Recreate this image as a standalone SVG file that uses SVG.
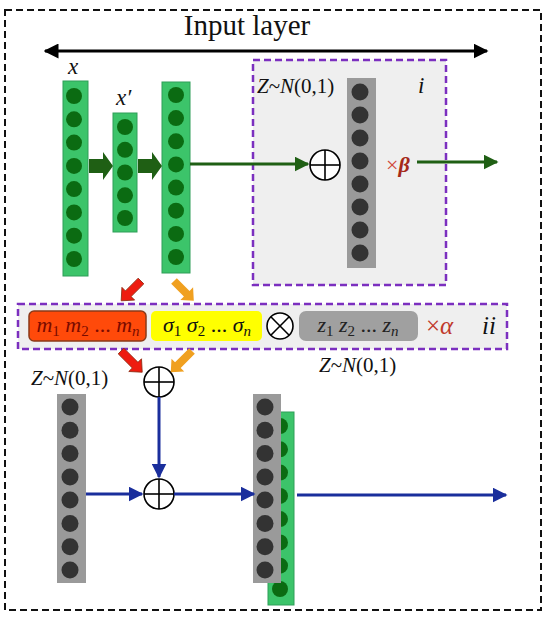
<svg xmlns="http://www.w3.org/2000/svg" width="550" height="627" viewBox="0 0 550 627">
<defs>
<style>
.t{fill:#111}
.it{font-style:italic}
.gcol{fill:#3cc46a;stroke:#2e9e58;stroke-width:1}
.gdot{fill:#0b6b12}
.kcol{fill:#9a9a9a}
.kdot{fill:#333333}
.plus{fill:#fff;stroke:#000;stroke-width:1.6}
.gl{stroke:#1f5f14;stroke-width:3;fill:none}
.bl{stroke:#1a2e9c;stroke-width:3;fill:none}
</style>
<marker id="ag" viewBox="0 0 10 10" refX="9" refY="5" markerWidth="5" markerHeight="5" orient="auto" markerUnits="strokeWidth"><path d="M0,0L10,5L0,10z" fill="#1f5f14"/></marker>
<marker id="ab" viewBox="0 0 10 10" refX="9" refY="5" markerWidth="5" markerHeight="5" orient="auto" markerUnits="strokeWidth"><path d="M0,0L10,5L0,10z" fill="#1a2e9c"/></marker>
<marker id="ak" viewBox="0 0 10 10" refX="9" refY="5" markerWidth="5" markerHeight="5" orient="auto-start-reverse" markerUnits="strokeWidth"><path d="M0,0L10,5L0,10z" fill="#000"/></marker>
</defs>
<rect x="5" y="10" width="536" height="600" fill="none" stroke="#111" stroke-width="2" stroke-dasharray="7,4"/>
<text class="t" x="247" y="35" font-size="29" text-anchor="middle" font-family="'Liberation Serif', serif">Input layer</text>
<line x1="45" y1="51" x2="487" y2="51" stroke="#000" stroke-width="3" marker-start="url(#ak)" marker-end="url(#ak)"/>

<g id="box-i">
<rect x="253" y="60" width="193" height="225" fill="#efefef" stroke="#7b2fbf" stroke-width="2.5" stroke-dasharray="7,4"/>
<text class="t" x="257" y="93" font-size="21" font-family="'Liberation Serif', serif"><tspan class="it">Z</tspan>~<tspan class="it">N</tspan>(0,1)</text>
<text class="t it" x="418" y="93" font-size="23" font-family="'Liberation Serif', serif">i</text>
</g>

<g id="col-x">
<text class="t it" x="68" y="74" font-size="23" font-family="'Liberation Serif', serif">x</text>
<rect class="gcol" x="63" y="81" width="25" height="195"/>
<g class="gdot"><circle cx="74" cy="96" r="8"/><circle cx="74" cy="119.3" r="8"/><circle cx="74" cy="142.6" r="8"/><circle cx="74" cy="165.9" r="8"/><circle cx="74" cy="189.1" r="8"/><circle cx="74" cy="212.4" r="8"/><circle cx="74" cy="235.7" r="8"/><circle cx="74" cy="259" r="8"/></g>
</g>
<g id="col-xp">
<text class="t it" x="116" y="105" font-size="23" font-family="'Liberation Serif', serif">x′</text>
<rect class="gcol" x="113" y="113" width="24" height="119"/>
<g class="gdot"><circle cx="125" cy="127" r="8"/><circle cx="125" cy="149.8" r="8"/><circle cx="125" cy="172.5" r="8"/><circle cx="125" cy="195.3" r="8"/><circle cx="125" cy="218" r="8"/></g>
</g>
<g id="col-3">
<rect class="gcol" x="162" y="82" width="28" height="191"/>
<g class="gdot"><circle cx="176" cy="95" r="8"/><circle cx="176" cy="118.1" r="8"/><circle cx="176" cy="141.3" r="8"/><circle cx="176" cy="164.4" r="8"/><circle cx="176" cy="187.6" r="8"/><circle cx="176" cy="210.7" r="8"/><circle cx="176" cy="233.9" r="8"/><circle cx="176" cy="257" r="8"/></g>
</g>
<g id="plus-i"><circle class="plus" cx="325" cy="165" r="15"/><line x1="310" y1="165" x2="340" y2="165" stroke="#000" stroke-width="1.6"/><line x1="325" y1="150" x2="325" y2="180" stroke="#000" stroke-width="1.6"/></g>
<g id="col-i">
<rect class="kcol" x="347" y="78" width="29" height="190"/>
<g class="kdot"><circle cx="360" cy="92" r="8.5"/><circle cx="360" cy="115" r="8.5"/><circle cx="360" cy="138" r="8.5"/><circle cx="360" cy="161" r="8.5"/><circle cx="360" cy="184" r="8.5"/><circle cx="360" cy="207" r="8.5"/><circle cx="360" cy="230" r="8.5"/><circle cx="360" cy="253" r="8.5"/></g>
</g>
<text x="386" y="172" font-size="22" fill="#d04a3a" font-family="'Liberation Serif', serif">×<tspan font-weight="bold" font-style="italic" fill="#a52a1a">β</tspan></text>

<g id="box-ii">
<rect x="18" y="304" width="489" height="45" fill="#efefef" stroke="#7b2fbf" stroke-width="2.5" stroke-dasharray="7,4"/>
<rect x="29" y="311" width="117" height="30" rx="5" fill="#ff4a0a" stroke="#8b3a1a" stroke-width="1.5"/>
<text x="88" y="332" font-size="22" text-anchor="middle" font-style="italic" fill="#7a0a00" font-family="'Liberation Serif', serif">m<tspan font-size="15" dy="4" font-style="normal">1</tspan><tspan dy="-4"> m</tspan><tspan font-size="15" dy="4" font-style="normal">2</tspan><tspan dy="-4" font-style="normal"> ... </tspan><tspan>m</tspan><tspan font-size="15" dy="4">n</tspan></text>
<rect x="151" y="311" width="111" height="30" rx="5" fill="#ffff00"/>
<text x="207" y="332" font-size="22" text-anchor="middle" font-style="italic" fill="#111" font-family="'Liberation Serif', serif">σ<tspan font-size="15" dy="4" font-style="normal">1</tspan><tspan dy="-4"> σ</tspan><tspan font-size="15" dy="4" font-style="normal">2</tspan><tspan dy="-4" font-style="normal"> ... </tspan><tspan>σ</tspan><tspan font-size="15" dy="4">n</tspan></text>
<circle class="plus" cx="280" cy="326" r="13"/>
<line x1="270.8" y1="316.8" x2="289.2" y2="335.2" stroke="#000" stroke-width="1.6"/><line x1="289.2" y1="316.8" x2="270.8" y2="335.2" stroke="#000" stroke-width="1.6"/>
<rect x="299" y="311" width="119" height="30" rx="7" fill="#a0a0a0"/>
<text x="358" y="332" font-size="22" text-anchor="middle" font-style="italic" fill="#222" font-family="'Liberation Serif', serif">z<tspan font-size="15" dy="4" font-style="normal">1</tspan><tspan dy="-4">  z</tspan><tspan font-size="15" dy="4" font-style="normal">2</tspan><tspan dy="-4" font-style="normal"> ... </tspan><tspan>z</tspan><tspan font-size="15" dy="4">n</tspan></text>
<text x="426" y="334" font-size="25" fill="#c0392b" font-family="'Liberation Serif', serif">×<tspan font-style="italic">α</tspan></text>
<text x="482" y="334" font-size="25" font-style="italic" fill="#111" font-family="'Liberation Serif', serif">ii</text>
</g>
<text class="t" x="319" y="372" font-size="21" font-family="'Liberation Serif', serif"><tspan class="it">Z</tspan>~<tspan class="it">N</tspan>(0,1)</text>

<g id="plus-a"><circle class="plus" cx="159" cy="382" r="15"/><line x1="144" y1="382" x2="174" y2="382" stroke="#000" stroke-width="1.6"/><line x1="159" y1="367" x2="159" y2="397" stroke="#000" stroke-width="1.6"/></g>
<g id="plus-b"><circle class="plus" cx="159" cy="494" r="15"/><line x1="144" y1="494" x2="174" y2="494" stroke="#000" stroke-width="1.6"/><line x1="159" y1="479" x2="159" y2="509" stroke="#000" stroke-width="1.6"/></g>

<g id="col-z">
<text class="t" x="31" y="385" font-size="21" font-family="'Liberation Serif', serif"><tspan class="it">Z</tspan>~<tspan class="it">N</tspan>(0,1)</text>
<rect class="kcol" x="57" y="394" width="29" height="189"/>
<g class="kdot"><circle cx="70" cy="407" r="8.5"/><circle cx="70" cy="430.3" r="8.5"/><circle cx="70" cy="453.6" r="8.5"/><circle cx="70" cy="476.9" r="8.5"/><circle cx="70" cy="500.1" r="8.5"/><circle cx="70" cy="523.4" r="8.5"/><circle cx="70" cy="546.7" r="8.5"/><circle cx="70" cy="570" r="8.5"/></g>
</g>
<g id="col-out">
<rect class="gcol" x="268" y="412" width="26" height="193"/>
<g class="gdot"><circle cx="280" cy="426" r="8"/><circle cx="280" cy="449.3" r="8"/><circle cx="280" cy="472.6" r="8"/><circle cx="280" cy="495.9" r="8"/><circle cx="280" cy="519.1" r="8"/><circle cx="280" cy="542.4" r="8"/><circle cx="280" cy="565.7" r="8"/><circle cx="280" cy="589" r="8"/></g>
<rect class="kcol" x="253" y="394" width="28" height="189"/>
<g class="kdot"><circle cx="265" cy="407" r="8.5"/><circle cx="265" cy="430.3" r="8.5"/><circle cx="265" cy="453.6" r="8.5"/><circle cx="265" cy="476.9" r="8.5"/><circle cx="265" cy="500.1" r="8.5"/><circle cx="265" cy="523.4" r="8.5"/><circle cx="265" cy="546.7" r="8.5"/><circle cx="265" cy="570" r="8.5"/></g>
</g>

<g id="connectors">
<path d="M89,159H103V152L113,166L103,180V173H89Z" fill="#1f5f14"/>
<path d="M138,159H152V152L162,166L152,180V173H138Z" fill="#1f5f14"/>
<line class="gl" x1="190" y1="164" x2="308" y2="164" marker-end="url(#ag)"/>
<line class="gl" x1="417" y1="162" x2="497" y2="162" marker-end="url(#ag)"/>
<g transform="translate(141,281) rotate(135)"><path d="M0,-4H18V-9L28,0L18,9V4H0Z" fill="#ee1c10" stroke="#8b2a10" stroke-width="0.8"/></g>
<g transform="translate(174,281) rotate(45)"><path d="M0,-4H18V-9L28,0L18,9V4H0Z" fill="#f0a020"/></g>
<g transform="translate(121,351) rotate(45)"><path d="M0,-4H20V-9L30,0L20,9V4H0Z" fill="#ee1c10" stroke="#8b2a10" stroke-width="0.8"/></g>
<g transform="translate(192,351) rotate(135)"><path d="M0,-4H20V-9L30,0L20,9V4H0Z" fill="#f0a020"/></g>
<line class="bl" x1="159" y1="397" x2="159" y2="477" marker-end="url(#ab)"/>
<line class="bl" x1="86" y1="494" x2="142" y2="494" marker-end="url(#ab)"/>
<line class="bl" x1="174" y1="494" x2="254" y2="494" marker-end="url(#ab)"/>
<line class="bl" x1="297" y1="495" x2="506" y2="495" marker-end="url(#ab)"/>
</g>
</svg>
